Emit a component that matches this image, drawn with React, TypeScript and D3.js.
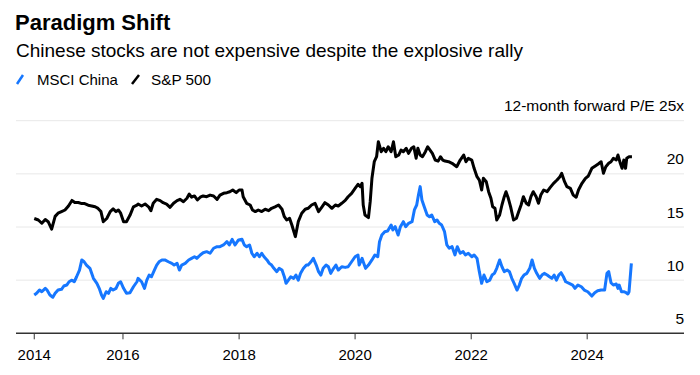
import React from "react";
import * as d3 from "d3";

// S&P 500 12-month forward P/E (decimal year, value)
const spxYears = [
  2014.47, 2014.54, 2014.6, 2014.66, 2014.71, 2014.77, 2014.83, 2014.88, 2014.94, 2015.0,
  2015.06, 2015.12, 2015.17, 2015.23, 2015.29, 2015.34, 2015.4, 2015.46, 2015.52, 2015.57,
  2015.62, 2015.66, 2015.72, 2015.78, 2015.83, 2015.88, 2015.92, 2015.96, 2016.01, 2016.06,
  2016.12, 2016.18, 2016.24, 2016.26, 2016.32, 2016.38, 2016.44, 2016.48, 2016.52, 2016.58,
  2016.64, 2016.69, 2016.75, 2016.81, 2016.87, 2016.93, 2016.98, 2017.04, 2017.1, 2017.14,
  2017.18, 2017.23, 2017.28, 2017.33, 2017.38, 2017.44, 2017.5, 2017.56, 2017.62, 2017.67,
  2017.73, 2017.79, 2017.84, 2017.89, 2017.95, 2018.0, 2018.05, 2018.07, 2018.13, 2018.19,
  2018.23, 2018.28, 2018.33, 2018.39, 2018.45, 2018.51, 2018.56, 2018.62, 2018.68, 2018.74,
  2018.78, 2018.82, 2018.87, 2018.91, 2018.97, 2019.02, 2019.08, 2019.14, 2019.19, 2019.25,
  2019.31, 2019.37, 2019.43, 2019.48, 2019.54, 2019.6, 2019.66, 2019.71, 2019.77, 2019.83,
  2019.88, 2019.94, 2020.0, 2020.05, 2020.09, 2020.12, 2020.14, 2020.17, 2020.23, 2020.26,
  2020.29, 2020.33, 2020.37, 2020.4, 2020.45, 2020.49, 2020.53, 2020.57, 2020.62, 2020.66,
  2020.7, 2020.75, 2020.79, 2020.83, 2020.88, 2020.92, 2020.97, 2021.01, 2021.05, 2021.08,
  2021.12, 2021.16, 2021.21, 2021.25, 2021.29, 2021.33, 2021.38, 2021.43, 2021.47, 2021.51,
  2021.55, 2021.61, 2021.67, 2021.75, 2021.81, 2021.87, 2021.91, 2021.95, 2022.01, 2022.05,
  2022.1, 2022.14, 2022.18, 2022.21, 2022.26, 2022.3, 2022.34, 2022.37, 2022.41, 2022.44,
  2022.49, 2022.53, 2022.57, 2022.6, 2022.64, 2022.68, 2022.73, 2022.78, 2022.82, 2022.86,
  2022.9, 2022.95, 2022.99, 2023.03, 2023.07, 2023.12, 2023.16, 2023.2, 2023.25, 2023.31,
  2023.36, 2023.42, 2023.48, 2023.53, 2023.56, 2023.61, 2023.65, 2023.71, 2023.76, 2023.81,
  2023.85, 2023.91, 2023.97, 2024.02, 2024.08, 2024.14, 2024.19, 2024.24, 2024.28, 2024.32,
  2024.37, 2024.41, 2024.45, 2024.5, 2024.53, 2024.57, 2024.6, 2024.63, 2024.66, 2024.68,
  2024.72, 2024.77,
];
const spxPE = [
  15.8, 15.66, 15.35, 15.7, 15.5, 14.8, 16.0, 16.3, 16.45, 16.6,
  16.98, 17.5, 17.3, 17.3, 17.2, 17.2, 17.05, 16.98, 16.9, 16.75,
  16.45, 15.5, 15.8, 16.45, 16.7, 16.45, 16.6, 16.3, 15.5, 15.5,
  16.1, 16.9, 17.05, 17.16, 16.98, 17.16, 16.9, 16.53, 17.23, 17.6,
  17.48, 17.29, 17.16, 16.85, 17.23, 17.48, 17.6, 17.38, 17.7, 18.1,
  17.8, 17.92, 17.54, 17.8, 17.92, 17.85, 18.0, 17.92, 17.6, 18.0,
  18.17, 18.23, 18.32, 18.48, 18.23, 18.48, 18.48, 17.85, 17.23, 17.07,
  16.6, 16.45, 16.6, 16.45, 16.67, 16.54, 16.76, 16.9, 17.07, 16.67,
  15.97, 15.66, 15.82, 15.19, 14.09, 15.5, 16.29, 16.67, 16.76, 17.07,
  17.23, 16.45, 16.9, 17.29, 17.07, 16.76, 17.07, 16.98, 17.23, 17.5,
  17.85, 18.17, 18.64, 19.02, 18.8, 19.11, 17.07, 16.13, 15.88, 17.38,
  19.58, 21.14, 21.61, 23.02, 22.08, 22.4, 22.08, 22.55, 22.08, 23.02,
  21.61, 21.77, 22.24, 22.08, 22.4, 21.93, 22.4, 22.55, 21.46, 22.4,
  21.77, 21.61, 22.08, 22.55, 22.24, 21.93, 21.3, 21.2, 21.61, 21.3,
  21.2, 21.14, 20.99, 20.67, 21.3, 21.77, 21.14, 21.46, 21.3, 20.52,
  19.73, 19.42, 18.48, 19.58, 19.26, 18.32, 17.7, 16.9, 16.76, 15.66,
  16.13, 17.07, 17.85, 18.32, 17.7, 16.9, 15.66, 15.82, 16.45, 17.07,
  17.85, 17.23, 17.07, 17.85, 18.32, 17.85, 17.23, 18.0, 18.48, 18.32,
  18.7, 19.11, 19.42, 19.73, 20.05, 19.26, 18.8, 18.64, 18.0, 17.8,
  18.48, 19.11, 19.58, 19.8, 20.52, 20.74, 20.93, 21.14, 20.05, 20.67,
  20.99, 21.14, 21.46, 21.3, 21.77, 20.99, 20.52, 21.3, 20.52, 21.46,
  21.61, 21.61,
];

// MSCI China 12-month forward P/E (decimal year, value)
const chinaYears = [
  2014.47, 2014.51, 2014.56, 2014.6, 2014.66, 2014.69, 2014.74, 2014.79, 2014.83, 2014.88,
  2014.94, 2014.98, 2015.03, 2015.07, 2015.12, 2015.16, 2015.2, 2015.25, 2015.29, 2015.33,
  2015.37, 2015.43, 2015.49, 2015.55, 2015.59, 2015.63, 2015.66, 2015.71, 2015.75, 2015.79,
  2015.83, 2015.88, 2015.92, 2015.96, 2016.01, 2016.06, 2016.12, 2016.18, 2016.24, 2016.26,
  2016.32, 2016.37, 2016.41, 2016.45, 2016.49, 2016.54, 2016.58, 2016.62, 2016.67, 2016.72,
  2016.78, 2016.84, 2016.88, 2016.93, 2016.97, 2017.01, 2017.07, 2017.13, 2017.18, 2017.23,
  2017.27, 2017.33, 2017.38, 2017.44, 2017.5, 2017.56, 2017.62, 2017.67, 2017.73, 2017.79,
  2017.83, 2017.88, 2017.93, 2017.99, 2018.05, 2018.09, 2018.13, 2018.18, 2018.22, 2018.26,
  2018.31, 2018.35, 2018.39, 2018.43, 2018.48, 2018.52, 2018.56, 2018.6, 2018.65, 2018.69,
  2018.74, 2018.78, 2018.81, 2018.85, 2018.89, 2018.94, 2018.98, 2019.02, 2019.06, 2019.11,
  2019.16, 2019.19, 2019.24, 2019.28, 2019.33, 2019.37, 2019.41, 2019.45, 2019.5, 2019.54,
  2019.58, 2019.63, 2019.67, 2019.71, 2019.77, 2019.83, 2019.88, 2019.94, 2020.0, 2020.05,
  2020.07, 2020.12, 2020.14, 2020.18, 2020.23, 2020.29, 2020.34, 2020.39, 2020.42, 2020.46,
  2020.51, 2020.56, 2020.62, 2020.65, 2020.69, 2020.74, 2020.78, 2020.83, 2020.87, 2020.92,
  2020.98, 2021.02, 2021.06, 2021.09, 2021.12, 2021.15, 2021.19, 2021.24, 2021.28, 2021.32,
  2021.37, 2021.41, 2021.45, 2021.49, 2021.54, 2021.58, 2021.62, 2021.67, 2021.72, 2021.76,
  2021.81, 2021.86, 2021.9, 2021.95, 2022.01, 2022.05, 2022.1, 2022.14, 2022.18, 2022.22,
  2022.27, 2022.32, 2022.36, 2022.4, 2022.44, 2022.49, 2022.53, 2022.57, 2022.62, 2022.66,
  2022.7, 2022.74, 2022.79, 2022.83, 2022.87, 2022.91, 2022.96, 2023.01, 2023.05, 2023.09,
  2023.13, 2023.18, 2023.22, 2023.26, 2023.31, 2023.35, 2023.39, 2023.43, 2023.47, 2023.51,
  2023.55, 2023.59, 2023.63, 2023.69, 2023.75, 2023.79, 2023.84, 2023.9, 2023.95, 2024.01,
  2024.08, 2024.13, 2024.18, 2024.24, 2024.3, 2024.34, 2024.37, 2024.41, 2024.45, 2024.5,
  2024.53, 2024.55, 2024.59, 2024.63, 2024.67, 2024.7, 2024.72, 2024.76,
];
const chinaPE = [
  8.6, 8.76, 9.07, 8.91, 9.23, 9.07, 8.6, 8.39, 8.76, 9.07,
  9.14, 9.45, 9.54, 9.85, 10.0, 9.85, 10.32, 10.95, 11.9, 11.73,
  11.42, 11.11, 10.17, 9.7, 9.23, 8.6, 8.29, 8.91, 8.76, 9.23,
  9.07, 9.23, 9.7, 9.85, 9.23, 8.76, 8.82, 9.38, 9.85, 10.17,
  9.85, 9.23, 10.0, 10.48, 10.32, 10.95, 11.42, 11.73, 11.9, 11.9,
  11.73, 11.58, 11.42, 11.58, 10.95, 11.42, 11.58, 11.9, 12.05, 12.2,
  12.05, 12.37, 12.58, 12.68, 12.53, 13.0, 13.15, 13.15, 13.31, 13.62,
  13.31, 13.84, 13.31, 13.78, 13.84, 13.31, 13.15, 13.31, 12.53, 12.2,
  12.53, 12.2, 12.53, 12.2, 11.9, 11.58, 11.42, 11.11, 10.8, 11.11,
  10.95, 10.32, 9.7, 10.0, 10.32, 10.17, 10.48, 10.0, 10.64, 11.11,
  11.42, 11.42, 11.73, 12.05, 11.42, 10.8, 10.48, 11.11, 11.42, 11.26,
  10.64, 11.11, 11.42, 10.95, 11.26, 11.2, 11.26, 11.73, 12.2, 12.37,
  11.42, 12.05, 11.73, 11.11, 11.42, 11.9, 12.37, 12.2, 13.62, 14.25,
  14.56, 14.62, 15.19, 14.72, 15.03, 14.25, 15.03, 15.5, 15.03, 15.35,
  15.5, 16.6, 17.07, 18.01, 18.8, 17.54, 16.9, 16.13, 15.97, 16.13,
  15.5, 15.66, 15.35, 15.19, 14.56, 13.31, 13.0, 13.15, 12.37, 13.15,
  12.53, 12.68, 12.37, 12.53, 12.2, 12.37, 12.05, 10.8, 9.7, 10.48,
  9.85, 10.0, 10.48, 10.64, 11.11, 11.9, 11.26, 10.8, 10.95, 10.8,
  10.17, 9.7, 9.07, 9.54, 10.17, 10.48, 10.64, 11.11, 11.9, 11.11,
  10.64, 10.17, 10.48, 10.64, 10.48, 10.32, 10.17, 10.48, 10.0, 10.48,
  10.7, 10.32, 9.85, 9.7, 9.54, 9.23, 9.54, 9.38, 9.07, 8.91,
  8.5, 8.82, 9.0, 9.07, 9.07, 10.64, 10.8, 9.76, 9.54, 9.64,
  9.23, 9.54, 8.91, 8.91, 8.82, 8.7, 8.91, 11.58,
];

const yTicks = [5, 10, 15, 20, 25];
const xTickYears = [2014.47, 2016, 2018, 2020, 2022, 2024];
const axisLabel = "12-month forward P/E";
const legendItems = ["MSCI China", "S&P 500"];
const title = "Paradigm Shift";
const subtitle = "Chinese stocks are not expensive despite the explosive rally";

const BLUE = "#1677ff";
const FONT = "'Liberation Sans', Arial, Helvetica, sans-serif";

function toDate(y: number): Date {
  const yr = Math.floor(y);
  const s = new Date(yr, 0, 1).getTime();
  const e = new Date(yr + 1, 0, 1).getTime();
  return new Date(s + (y - yr) * (e - s));
}

export default function App() {
  const W = 700;
  const H = 375;
  const left = 16;
  const right = 684;

  const x = d3
    .scaleTime()
    .domain([toDate(2014.155), toDate(2025.667)])
    .range([left, right]);
  const y = d3.scaleLinear().domain([5, 25]).range([333.3, 120.7]);

  const line = d3
    .line<[number, number]>()
    .x((d) => x(toDate(d[0])))
    .y((d) => y(d[1]))
    .curve(d3.curveLinear);

  const spx: [number, number][] = spxYears.map((yr, i) => [yr, spxPE[i]]);
  const china: [number, number][] = chinaYears.map((yr, i) => [yr, chinaPE[i]]);
  const fmt = d3.timeFormat("%Y");

  return (
    <svg
      width={W}
      height={H}
      style={{ position: "absolute", left: 0, top: 0, background: "#fff" }}
      fontFamily={FONT}
    >
      <rect width={W} height={H} fill="#fff" />
      <text x={15} y={29.5} fontSize={22} fontWeight="bold" fill="#000">
        {title}
      </text>
      <text x={16} y={57} fontSize={19} fill="#000">
        {subtitle}
      </text>
      {/* legend */}
      <g>
        <line x1={17} y1={84} x2={23} y2={75} stroke={BLUE} strokeWidth={2.5} />
        <text x={37} y={84.5} fontSize={15} fill="#000">
          {legendItems[0]}
        </text>
        <line x1={132} y1={84} x2={139} y2={75} stroke="#000" strokeWidth={2.5} />
        <text x={151} y={84.5} fontSize={15.3} fill="#000">
          {legendItems[1]}
        </text>
      </g>
      {/* grid */}
      {yTicks.map((t) =>
        t === 5 ? null : (
          <line key={"g" + t} x1={left} x2={right} y1={y(t)} y2={y(t)} stroke="#e8e8e8" strokeWidth={1} />
        )
      )}
      {yTicks.map((t) => (
        <text key={"t" + t} x={right} y={y(t) - 9.5} fontSize={15.5} textAnchor="end" fill="#000">
          {t === 25 ? `${axisLabel} ${t}x` : `${t}`}
        </text>
      ))}
      {/* lines */}
      <path d={line(spx) || ""} fill="none" stroke="#000" strokeWidth={3} strokeLinejoin="round" />
      <path d={line(china) || ""} fill="none" stroke={BLUE} strokeWidth={3} strokeLinejoin="round" />
      {/* x axis */}
      <line x1={left} x2={right} y1={y(5)} y2={y(5)} stroke="#333" strokeWidth={1.5} />
      {xTickYears.map((t) => {
        const px = x(toDate(t));
        return (
          <g key={"x" + t}>
            <line x1={px} x2={px} y1={y(5)} y2={y(5) + 6} stroke="#333" strokeWidth={1} />
            <text x={px} y={360} fontSize={15} textAnchor="middle" fill="#000">
              {fmt(toDate(t))}
            </text>
          </g>
        );
      })}
    </svg>
  );
}
